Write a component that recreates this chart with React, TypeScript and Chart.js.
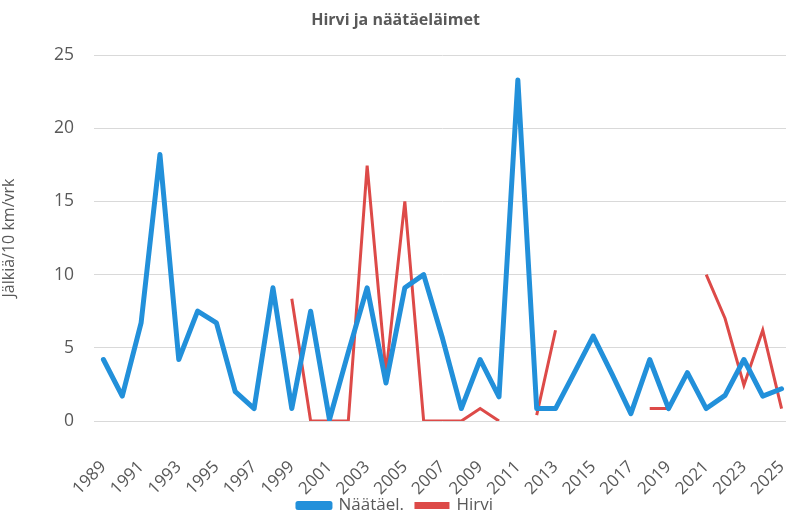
import React, { useEffect, useRef } from "react";
import { Chart, registerables } from "chart.js";

Chart.register(...registerables);

const years: string[] = [];
for (let y = 1989; y <= 2025; y++) years.push(String(y));

const naatael: (number | null)[] = [
  4.2, 1.7, 6.7, 18.2, 4.2, 7.5, 6.7, 2.0, 0.85, 9.1,
  0.85, 7.5, 0.1, 4.7, 9.1, 2.6, 9.1, 10.0, 5.65, 0.85,
  4.2, 1.65, 23.3, 0.85, 0.85, 3.3, 5.8, 3.2, 0.5, 4.2,
  0.85, 3.3, 0.85, 1.75, 4.2, 1.7, 2.2,
];

const hirvi: (number | null)[] = [
  null, null, null, null, null, null, null, null, null, null,
  8.35, 0, 0, 0, 17.45, 3.25, 15.0, 0, 0, 0,
  0.85, 0, null, 0.4, 6.2, null, null, null, null, 0.85,
  0.85, null, 10.0, 7.0, 2.45, 6.2, 0.85,
];

const yTicks = [0, 5, 10, 15, 20, 25];

const FONT = "'Open Sans', sans-serif";
const GREY = "#595959";
const BLUE = "#2290DA";
const RED = "#DD4A48";

const CANVAS_W = 818;
const CANVAS_H = 524;

export default function App() {
  const ref = useRef<HTMLCanvasElement | null>(null);
  useEffect(() => {
    document.body.style.margin = "0";
    if (!ref.current) return;
    const chart = new Chart(ref.current, {
      type: "line",
      data: {
        labels: years,
        datasets: [
          {
            label: "Näätäel.",
            data: naatael,
            borderColor: BLUE,
            backgroundColor: BLUE,
            borderWidth: 5,
            pointRadius: 0,
            tension: 0,
            borderJoinStyle: "round",
            borderCapStyle: "round",
          },
          {
            label: "Hirvi",
            data: hirvi,
            borderColor: RED,
            backgroundColor: RED,
            borderWidth: 3,
            pointRadius: 0,
            tension: 0,
            spanGaps: false,
          },
        ],
      },
      options: {
        animation: false,
        responsive: false,
        maintainAspectRatio: false,
        layout: { padding: { left: 0, right: 27, top: 0, bottom: 0 } },
        plugins: {
          title: {
            display: true,
            text: "Hirvi ja näätäeläimet",
            color: GREY,
            font: { family: FONT, size: 16, weight: "bold" },
            padding: { top: 10.5, bottom: 25.3 },
          },
          legend: {
            position: "bottom",
            labels: {
              color: GREY,
              font: { family: FONT, size: 17 },
              boxWidth: 32,
              boxHeight: 4,
              padding: 12,
            },
          },
          tooltip: { enabled: false },
        },
        scales: {
          x: {
            offset: true,
            grid: { display: false, drawTicks: false },
            border: { display: false },
            afterFit: (axis: any) => {
              axis.paddingLeft = 0;
              axis.paddingRight = 0;
              axis.height = 64;
              axis._computeLabelArea = () => undefined;
            },
            ticks: {
              color: GREY,
              font: { family: FONT, size: 17 },
              autoSkip: false,
              maxRotation: 45,
              minRotation: 45,
              padding: 36,
              callback: (_v: any, i: number) => (i % 2 === 0 ? years[i] : ""),
            },
          },
          y: {
            min: 0,
            max: 25,
            afterBuildTicks: (axis: any) => {
              axis.ticks = yTicks.map((v) => ({ value: v }));
            },
            afterFit: (axis: any) => {
              axis.width = 94;
            },
            grid: { color: "#D9D9D9", lineWidth: 1, drawTicks: false },
            border: { display: false },
            ticks: {
              color: GREY,
              font: { family: FONT, size: 17.5 },
              padding: 20,
            },
            title: {
              display: true,
              text: "Jälkiä/10 km/vrk",
              color: GREY,
              font: { family: FONT, size: 16 },
              padding: { top: 0, bottom: 0 },
            },
          },
        },
      },
    });
    return () => chart.destroy();
  }, []);
  return (
    <div style={{ width: 786, height: 513, overflow: "hidden" }}>
      <canvas ref={ref} width={CANVAS_W} height={CANVAS_H} />
    </div>
  );
}
